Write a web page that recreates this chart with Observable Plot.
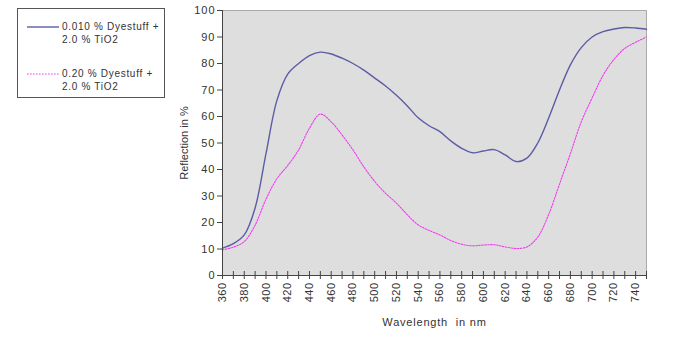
<!DOCTYPE html>
<html>
<head>
<meta charset="utf-8">
<script src="https://cdn.jsdelivr.net/npm/d3@7"></script>
<script src="https://cdn.jsdelivr.net/npm/@observablehq/plot@0.6"></script>
<style>
  body { margin: 0; background: #fff; font-family: "Liberation Sans", Arial, sans-serif; }
  #wrap { position: relative; width: 675px; height: 350px; }
  #legend { position: absolute; left: 17px; top: 8px; width: 148px; height: 90px; border: 1px solid #555; box-sizing: border-box; background: #fff; font-size: 10px; letter-spacing: 0.7px; color: #333; }
  .item { position: absolute; left: 9px; display: flex; align-items: flex-start; }
  .item svg { margin-top: 5px; margin-right: 3px; }
  .item div { line-height: 13px; }
</style>
</head>
<body>
<div id="wrap"><div id="chart"></div><div id="legend"></div></div>
<script>
const wavelengths = [360,370,380,390,400,410,420,430,440,450,460,470,480,490,500,510,520,530,540,550,560,570,580,590,600,610,620,630,640,650,660,670,680,690,700,710,720,730,740,750];
const seriesA = [10.3,12,15.3,25.5,46,66,76,80,83,84.3,83.6,82,80,77.5,74.5,71.5,68,64,59.5,56.5,54.3,50.8,48,46.3,47,47.5,45.5,43,44.3,50,59.4,70,79.5,86,90,92,93,93.6,93.4,92.9];
const seriesB = [9.7,10.7,12.8,19,28.8,36.5,41.5,47.4,55.6,60.9,58,53,47.4,41,35.5,31,27.3,22.9,19.1,17,15.3,13.2,11.8,11.2,11.5,11.6,10.8,10.2,10.8,14.5,23,34.5,46,58,67,75.5,81.5,85.7,88,90];
const seriesNames = ["0.010 % Dyestuff +\n2.0 % TiO2", "0.20 % Dyestuff +\n2.0 % TiO2"];
const seriesColors = ["#5c5ca6", "#f03cf0"];
const xTicksMinor = d3.range(360, 751, 10);
const xTickLabels = d3.range(360, 741, 20);
const yTicks = d3.range(0, 101, 10);

const dataA = wavelengths.map((w, i) => ({w, v: seriesA[i]}));
const dataB = wavelengths.map((w, i) => ({w, v: seriesB[i]}));

const chart = Plot.plot({
  width: 675,
  height: 350,
  marginLeft: 222,
  marginRight: 29,
  marginTop: 10,
  marginBottom: 75,
  style: {fontFamily: "'Liberation Sans', Arial, sans-serif", fontSize: "10px", color: "#333", background: "transparent"},
  x: {domain: [360, 750]},
  y: {domain: [0, 100]},
  marks: [
    Plot.frame({fill: "#dedede", stroke: "#aaa"}),
    Plot.lineY(dataA, {x: "w", y: "v", stroke: seriesColors[0], strokeWidth: 1.4, curve: "catmull-rom"}),
    Plot.lineY(dataB, {x: "w", y: "v", stroke: seriesColors[1], strokeWidth: 1.1, strokeDasharray: "1.6,1.4", curve: "catmull-rom"}),
    Plot.ruleY([0], {stroke: "#444"}),
    Plot.ruleX([360], {stroke: "#444"}),
    Plot.axisY({ticks: yTicks, tickSize: 5, stroke: "#444", fontSize: 11, label: "Reflection in %", labelAnchor: "center", labelArrow: "none", labelOffset: 42, tickPadding: 2}),
    Plot.axisX({ticks: xTicksMinor, tickSize: 8, dy: -4, text: null, stroke: "#444", label: null}),
    Plot.axisX({ticks: xTickLabels, tickSize: 0, tickRotate: -90, tickPadding: 7, fontSize: 11, label: "Wavelength  in nm", labelAnchor: "center", labelArrow: "none", labelOffset: 50})
  ]
});
document.getElementById("chart").appendChild(chart);
d3.select(chart).selectAll("[aria-label='y-axis tick label'] text").style("letter-spacing", "1px");
d3.select(chart).selectAll("[aria-label='x-axis tick label'] text").style("letter-spacing", "0.5px");
d3.select(chart).selectAll("[aria-label='x-axis label'] text").style("letter-spacing", "0.8px");

const legend = document.getElementById("legend");
const tops = [11, 58];
seriesNames.forEach((name, i) => {
  const item = document.createElement("div");
  item.className = "item";
  item.style.top = tops[i] + "px";
  const dash = i === 1 ? ' stroke-dasharray="1.6,1.4"' : '';
  item.innerHTML = `<svg width="32" height="4"><line x1="0" y1="2" x2="32" y2="2" stroke="${seriesColors[i]}" stroke-width="${i===0?1.4:1.1}"${dash}/></svg><div>${name.replace("\n", "<br>")}</div>`;
  legend.appendChild(item);
});
</script>
</body>
</html>
